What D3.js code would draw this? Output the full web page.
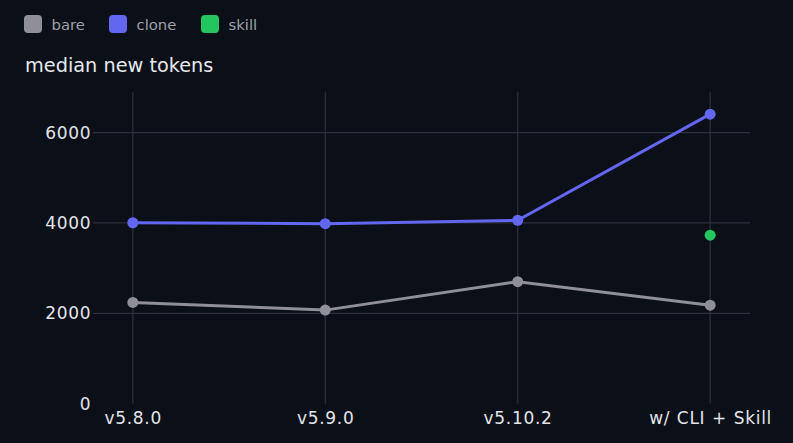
<!DOCTYPE html>
<html lang="en">
<head>
<meta charset="utf-8">
<title>median new tokens</title>
<script src="https://d3js.org/d3.v7.min.js"></script>
<style>
  html, body { margin: 0; padding: 0; background: #0b0f17; }
  svg { display: block; font-family: "DejaVu Sans", sans-serif; }
  .tick { font-size: 17px; letter-spacing: 0.7px; word-spacing: 0.6px; fill: #e2e4e9; }
</style>
</head>
<body>
<svg width="793" height="443"></svg>
<script>
// data
const categories = ["v5.8.0", "v5.9.0", "v5.10.2", "w/ CLI + Skill"];
const bare  = [2240, 2070, 2700, 2180];
const clone = [4005, 3985, 4060, 6410];
const skill = [null, null, null, 3730];
const yTicks = [0, 2000, 4000, 6000];

const series = [
  {name: "bare",  values: bare,  color: "#8e8f99"},
  {name: "clone", values: clone, color: "#6366f1"},
  {name: "skill", values: skill, color: "#22c55e"}
];

const svg = d3.select("svg");
const W = 793, H = 443;
const plotL = 93, plotR = 750, plotT = 92, plotB = 403.6;

const x = d3.scalePoint().domain(categories).range([plotL, plotR]).padding(0.207);
const y = d3.scaleLinear().domain([0, 6900]).range([plotB, plotT]);

svg.append("rect").attr("width", W).attr("height", H).attr("fill", "#0b0f17");

// grid
svg.append("g").selectAll("line")
  .data(yTicks.filter(d => d > 0))
  .join("line")
  .attr("x1", plotL).attr("x2", plotR)
  .attr("y1", d => y(d)).attr("y2", d => y(d))
  .attr("stroke", "#2c313c").attr("stroke-width", 1.2);

svg.append("g").selectAll("line")
  .data(categories)
  .join("line")
  .attr("x1", d => x(d)).attr("x2", d => x(d))
  .attr("y1", plotT).attr("y2", plotB)
  .attr("stroke", "#2c313c").attr("stroke-width", 1.2);

// y tick labels
svg.append("g").selectAll("text")
  .data(yTicks)
  .join("text")
  .attr("class", "tick")
  .attr("x", 91.4).attr("y", d => y(d))
  .attr("dy", "0.35em")
  .attr("text-anchor", "end")
  .text(d => d);

// x tick labels
svg.append("g").selectAll("text")
  .data(categories)
  .join("text")
  .attr("class", "tick")
  .attr("x", d => x(d) + 0.4).attr("y", 418)
  .attr("dy", "0.35em")
  .attr("text-anchor", "middle")
  .text(d => d);

// lines and points
const line = d3.line()
  .defined(d => d.v != null)
  .x(d => x(d.c)).y(d => y(d.v));

series.forEach(s => {
  const pts = categories.map((c, i) => ({c: c, v: s.values[i]}));
  svg.append("path")
    .datum(pts)
    .attr("d", line)
    .attr("fill", "none")
    .attr("stroke", s.color)
    .attr("stroke-width", 3);
  svg.append("g").selectAll("circle")
    .data(pts.filter(d => d.v != null))
    .join("circle")
    .attr("cx", d => x(d.c)).attr("cy", d => y(d.v))
    .attr("r", 5.5)
    .attr("fill", s.color);
});

// legend
const legendX = [24, 109, 201];
const lg = svg.append("g").selectAll("g")
  .data(series)
  .join("g")
  .attr("transform", (d, i) => `translate(${legendX[i]},15)`);
lg.append("rect")
  .attr("width", 18).attr("height", 18).attr("rx", 4)
  .attr("fill", d => d.color);
lg.append("text")
  .attr("x", 27.5).attr("y", 9.8).attr("dy", "0.35em")
  .attr("fill", "#9ca0aa")
  .style("font-size", "14.8px")
  .text(d => d.name);

// title
svg.append("text")
  .attr("x", 25).attr("y", 65).attr("dy", "0.35em")
  .attr("fill", "#e6e8ec")
  .style("font-size", "19.3px")
  .text("median new tokens");
</script>
</body>
</html>
